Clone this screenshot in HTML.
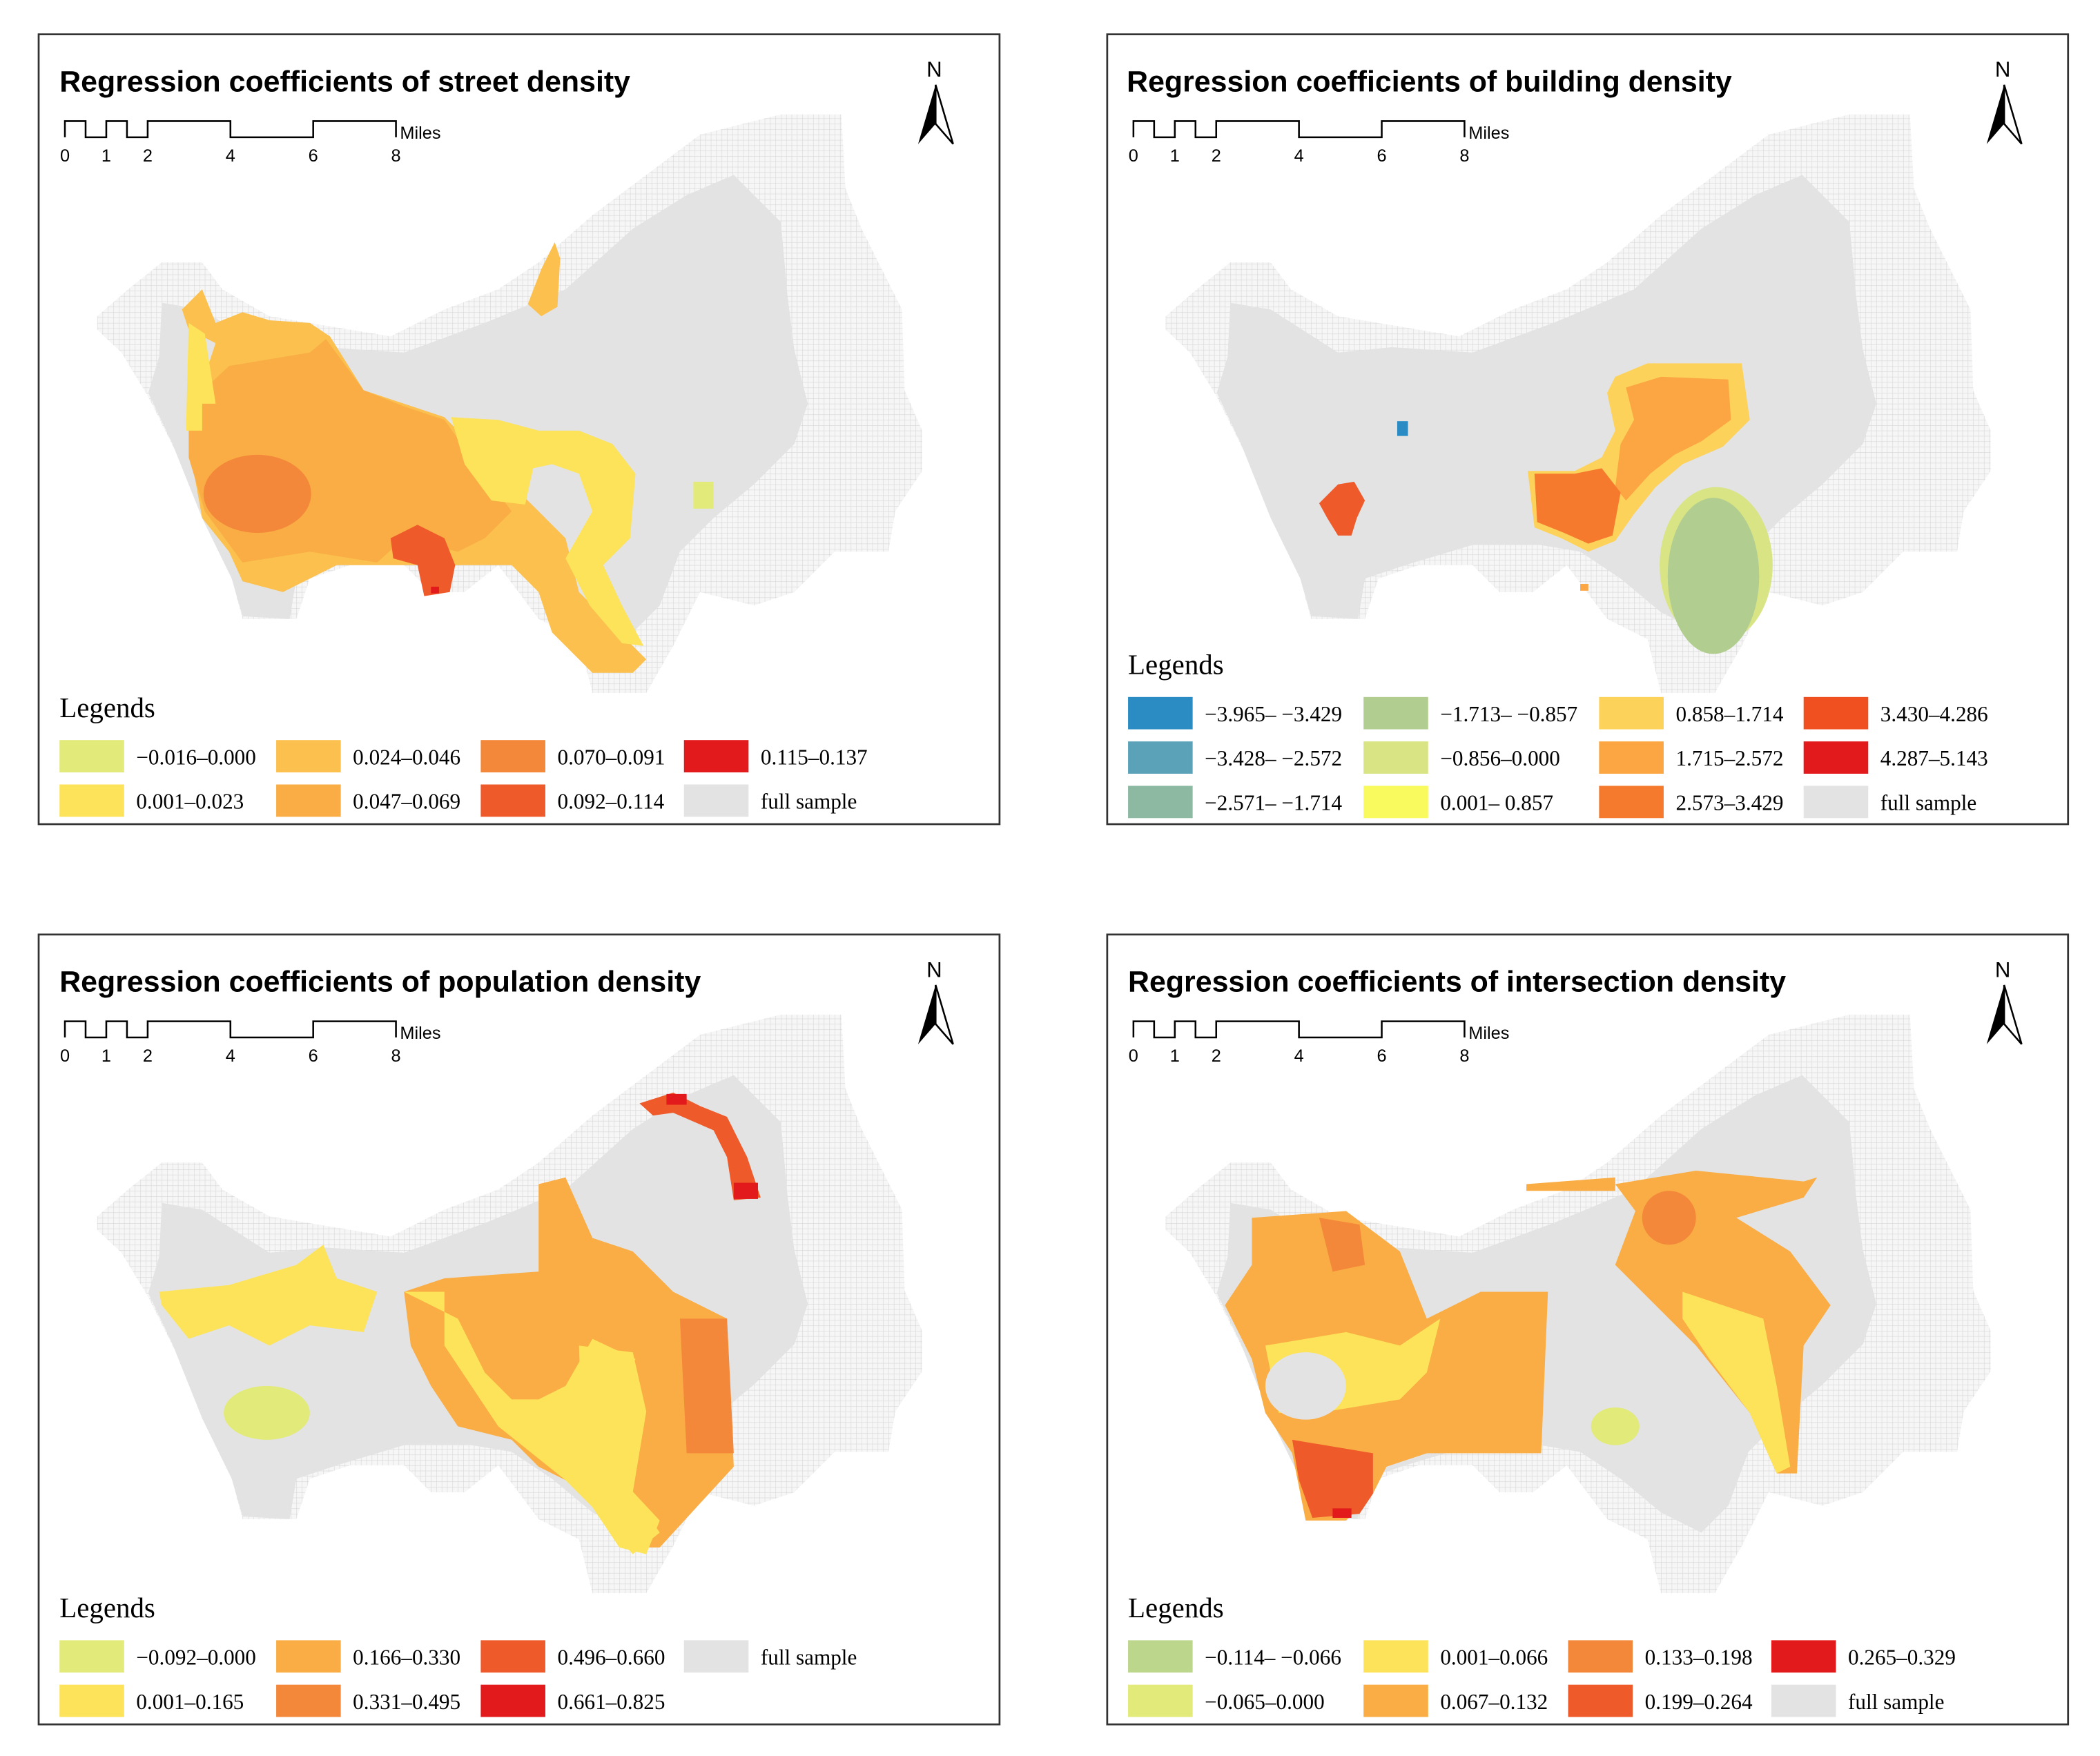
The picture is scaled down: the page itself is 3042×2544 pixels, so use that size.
<!DOCTYPE html>
<html><head><meta charset="utf-8">
<style>
html,body{margin:0;padding:0;background:#fff;}
svg{display:block;}
.title{font-family:"Liberation Sans",sans-serif;font-weight:bold;font-size:22px;fill:#000;}
.leg{font-family:"Liberation Serif",serif;font-size:16px;fill:#000;}
.legt{font-family:"Liberation Serif",serif;font-size:21px;fill:#000;}
.sb{font-family:"Liberation Sans",sans-serif;font-size:13px;fill:#000;}
</style></head>
<body>
<svg id="root" width="3042" height="2544" viewBox="0 0 1560 1305" xmlns="http://www.w3.org/2000/svg">
<defs>
<pattern id="grid" width="4" height="4" patternUnits="userSpaceOnUse">
<rect width="4" height="4" fill="#f6f6f6"/>
<path d="M0 0H4M0 0V4" stroke="#d6d6d6" stroke-width="0.6" fill="none"/>
</pattern>
<g id="basemap">
<polygon fill="url(#grid)" points="72,235 95,215 120,195 150,195 165,215 200,235 260,245 290,250 330,230 370,215 400,195 440,160 480,130 520,100 580,85 625,85 628,140 640,170 670,230 672,290 685,320 685,350 665,380 660,410 620,410 590,440 560,450 520,440 500,480 480,515 440,515 430,475 400,460 370,420 345,440 320,440 300,420 260,420 230,430 220,460 180,460 172,430 150,385 130,335 110,295 90,262 72,245"/>
<polygon fill="#e3e3e3" points="120,225 150,230 200,262 240,258 300,262 360,240 420,215 470,170 510,145 545,130 560,145 580,165 585,220 590,260 600,300 590,330 560,360 530,385 505,410 490,450 470,470 440,455 410,430 380,410 350,405 300,405 250,420 220,430 215,460 180,458 172,430 150,385 128,330 110,292 118,265"/>
</g>
<g id="north">
<text x="694" y="57" text-anchor="middle" style="font-family:'Liberation Sans',sans-serif;font-size:16px">N</text>
<polygon points="695,63 682,107 695,92" fill="#000"/>
<polygon points="695,63 708,107 695,92" fill="#fff" stroke="#000" stroke-width="1.3"/>
</g>
</defs>

<!-- Panel 1 -->
<g>
<rect x="28.5" y="25.5" width="714" height="587" fill="#fff" stroke="#333" stroke-width="1.4"/>
<text class="title" x="44" y="68">Regression coefficients of street density</text>
<use href="#basemap"/>
<g>
<polygon fill="#fbc04e" points="135,230 150,215 160,240 180,232 200,238 230,240 245,250 270,290 300,300 330,310 350,330 380,360 400,380 420,400 430,440 460,470 480,490 470,500 440,500 410,470 400,440 380,420 360,420 330,420 300,420 250,420 230,430 210,440 180,432 170,410 150,385 140,330 150,285 160,255 140,245"/>
<polygon fill="#f9ad44" points="140,300 170,272 230,262 242,252 270,290 300,302 330,312 350,340 380,380 360,400 340,410 300,400 280,418 230,410 180,418 152,380 140,340"/>
<polygon fill="#fde35a" points="140,240 152,248 160,300 150,300 150,320 138,320"/>
<polygon fill="#fde35a" points="335,310 370,312 400,320 430,320 455,330 472,352 468,400 448,420 462,450 478,480 462,478 438,450 420,415 440,380 430,352 410,345 396,348 390,375 365,372 345,345"/>
<ellipse cx="191" cy="367" rx="40" ry="29" fill="#f4883a"/>
<polygon fill="#ef5a2a" points="290,400 310,390 330,400 338,420 334,440 315,443 310,420 292,415"/>
<rect x="320" y="436" width="6" height="5" fill="#e31a1c"/>
<polygon fill="#fbc04e" points="402,200 412,180 416,192 414,228 402,235 392,226"/>
<rect x="515" y="358" width="15" height="20" fill="#e2ea7a"/>
</g>
<use href="#north"/>
<g id="sb1"></g>
<g id="leg1"></g>
</g>

<!-- Panel 2 -->
<g transform="translate(794,0)">
<rect x="28.5" y="25.5" width="714" height="587" fill="#fff" stroke="#333" stroke-width="1.4"/>
<text class="title" x="43" y="68">Regression coefficients of building density</text>
<use href="#basemap"/>
<g>
<rect x="244" y="313" width="8" height="11" fill="#2b8cc4"/>
<polygon fill="#ef5a2a" points="200,360 212,358 220,372 214,385 210,398 200,398 192,385 186,374"/>
<polygon fill="#fdd25a" points="406,280 430,270 500,270 506,312 486,332 456,345 436,362 420,382 406,402 386,410 366,400 346,392 341,350 376,350 396,340 406,320 400,292"/>
<polygon fill="#fba642" points="414,288 440,280 490,282 492,312 470,328 450,338 432,352 414,372 406,362 410,330 420,312"/>
<polygon fill="#f57a2e" points="346,352 376,352 396,348 410,366 404,398 386,404 368,396 348,388"/>
<rect x="380" y="434" width="6" height="5" fill="#fba642"/>
<ellipse cx="481" cy="420" rx="42" ry="58" fill="#d9e484"/>
<ellipse cx="479" cy="428" rx="34" ry="58" fill="#b1cd8f"/>
</g>
<use href="#north"/>
<g id="sb2"></g>
<g id="leg2"></g>
</g>

<!-- Panel 3 -->
<g transform="translate(0,669)">
<rect x="28.5" y="25.5" width="714" height="587" fill="#fff" stroke="#333" stroke-width="1.4"/>
<text class="title" x="44" y="68">Regression coefficients of population density</text>
<use href="#basemap"/>
<g>
<polygon fill="#fde35a" points="118,291 170,286 220,271 240,256 250,281 280,291 270,321 230,316 200,331 170,316 140,326 120,301"/>
<ellipse cx="198" cy="381" rx="32" ry="20" fill="#e2ea7a"/>
<polygon fill="#f9ad44" points="300,291 330,281 400,276 400,211 420,206 440,251 470,261 500,291 540,311 545,421 490,481 470,481 440,441 400,421 380,401 340,391 320,361 305,331"/>
<polygon fill="#fde35a" points="300,291 330,291 330,331 370,391 420,431 440,451 460,481 480,486 490,461 462,431 452,381 472,341 440,326 420,361 400,371 380,371 360,351 340,311"/>
<polygon fill="#fde35a" points="430,331 470,336 480,380 470,440 490,470 470,486 440,451 432,400"/>
<polygon fill="#f4883a" points="505,311 540,311 545,411 510,411"/>
<polygon fill="#ef5a2a" points="475,151 500,143 520,153 540,161 555,191 565,221 545,223 540,191 530,171 500,158 485,160"/>
<rect x="545" y="210" width="18" height="12" fill="#e31a1c"/>
<rect x="495" y="144" width="15" height="8" fill="#e31a1c"/>
</g>
<use href="#north"/>
<g id="sb3"></g>
<g id="leg3"></g>
</g>

<!-- Panel 4 -->
<g transform="translate(794,669)">
<rect x="28.5" y="25.5" width="714" height="587" fill="#fff" stroke="#333" stroke-width="1.4"/>
<text class="title" x="44" y="68">Regression coefficients of intersection density</text>
<use href="#basemap"/>
<g>
<polygon fill="#f9ad44" points="136,236 206,231 246,261 266,311 306,291 356,291 351,411 266,411 236,421 226,441 206,461 176,461 166,411 146,381 136,341 116,301 136,271"/>
<polygon fill="#fde35a" points="146,331 206,321 246,331 276,311 266,351 246,371 186,381 156,381"/>
<ellipse cx="176" cy="361" rx="30" ry="25" fill="#e3e3e3"/>
<polygon fill="#f4883a" points="186,236 216,241 220,271 196,276"/>
<polygon fill="#ef5a2a" points="166,401 226,411 226,441 216,456 181,459 171,431"/>
<rect x="196" y="452" width="14" height="7" fill="#e31a1c"/>
<polygon fill="#f9ad44" points="406,211 466,201 546,209 556,206 546,221 496,236 536,261 566,301 546,331 541,426 526,426 506,381 466,331 426,291 406,271 421,231"/>
<polygon fill="#fde35a" points="456,291 486,301 516,311 526,361 536,421 526,426 506,381 476,341 456,311"/>
<circle cx="446" cy="236" r="20" fill="#f4883a"/>
<polygon fill="#f9ad44" points="340,211 406,206 406,216 340,216"/>
<ellipse cx="406" cy="391" rx="18" ry="14" fill="#e2ea7a"/>
</g>
<use href="#north"/>
<g id="sb4"></g>
<g id="leg4"></g>
</g>
</svg>

<script>
const NS = "http://www.w3.org/2000/svg";
const legend1Labels = ["\u22120.016\u20130.000","0.001\u20130.023","0.024\u20130.046","0.047\u20130.069","0.070\u20130.091","0.092\u20130.114","0.115\u20130.137","full sample"];
const legend1Colors = ["#e2ea7a","#fde35a","#fbc04e","#f9ad44","#f4883a","#ef5a2a","#e31a1c","#e3e3e3"];
const legend2Labels = ["\u22123.965\u2013 \u22123.429","\u22123.428\u2013 \u22122.572","\u22122.571\u2013 \u22121.714","\u22121.713\u2013 \u22120.857","\u22120.856\u20130.000","0.001\u2013 0.857","0.858\u20131.714","1.715\u20132.572","2.573\u20133.429","3.430\u20134.286","4.287\u20135.143","full sample"];
const legend2Colors = ["#2b8cc4","#5ba2b8","#8db9a3","#b1cd8f","#d9e484","#f9fa5e","#fdd25a","#fba642","#f57a2e","#f0501f","#e31a1c","#e3e3e3"];
const legend3Labels = ["\u22120.092\u20130.000","0.001\u20130.165","0.166\u20130.330","0.331\u20130.495","0.496\u20130.660","0.661\u20130.825","full sample"];
const legend3Colors = ["#e2ea7a","#fde35a","#f9ad44","#f4883a","#ef5a2a","#e31a1c","#e3e3e3"];
const legend4Labels = ["\u22120.114\u2013 \u22120.066","\u22120.065\u20130.000","0.001\u20130.066","0.067\u20130.132","0.133\u20130.198","0.199\u20130.264","0.265\u20130.329","full sample"];
const legend4Colors = ["#bcd68c","#e2ea7a","#fde35a","#f9ad44","#f4883a","#ef5a2a","#e31a1c","#e3e3e3"];
const scaleTicks = [0,1,2,4,6,8];

function mk(tag, attrs){const e=document.createElementNS(NS,tag);for(const k in attrs)e.setAttribute(k,attrs[k]);return e;}

function scaleBar(id){
  const g=document.getElementById(id);
  const x0=48, unit=30.75, top=90, bot=102;
  const segs=[[0,0.5,top],[0.5,1,bot],[1,1.5,top],[1.5,2,bot],[2,4,top],[4,6,bot],[6,8,top]];
  let d="M"+x0+" "+bot;
  segs.forEach(s=>{d+=" L"+(x0+s[0]*unit)+" "+s[2]+" L"+(x0+s[1]*unit)+" "+s[2];});
  d+=" L"+(x0+8*unit)+" "+bot;
  const p=mk("path",{d:d,fill:"none",stroke:"#000","stroke-width":"1.3"});
  
  
  g.appendChild(p);
  scaleTicks.forEach(v=>{
    const t=mk("text",{x:x0+v*unit,y:120,"text-anchor":"middle",class:"sb"});
    t.textContent=v;
    
    
    g.appendChild(t);
  });
  const m=mk("text",{x:x0+8*unit+3,y:103,class:"sb"});
  m.textContent="Miles";
  
  
  g.appendChild(m);
}

function legend(id,labels,colors,rows,cols,titleY,rowYs){
  const g=document.getElementById(id);
  const t=mk("text",{x:44,y:titleY,class:"legt"});
  t.textContent="Legends";
  
  
  g.appendChild(t);
  labels.forEach((lab,i)=>{
    const c=Math.floor(i/rows), r=i%rows;
    const x=cols[c], y=rowYs[r];
    const s=mk("rect",{x:x,y:y,width:48,height:24,fill:colors[i]});
    
    
    g.appendChild(s);
    const tx=mk("text",{x:x+57,y:y+18,class:"leg"});
    tx.textContent=lab;
    
    
    g.appendChild(tx);
  });
}

["sb1","sb2","sb3","sb4"].forEach(scaleBar);
legend("leg1",legend1Labels,legend1Colors,2,[44,205,357,508],533,[550,583]);
legend("leg2",legend2Labels,legend2Colors,3,[44,219,394,546],501,[518,551,584]);
legend("leg3",legend3Labels,legend3Colors,2,[44,205,357,508],533,[550,583]);
legend("leg4",legend4Labels,legend4Colors,2,[44,219,371,522],533,[550,583]);
</script>
</body></html>
